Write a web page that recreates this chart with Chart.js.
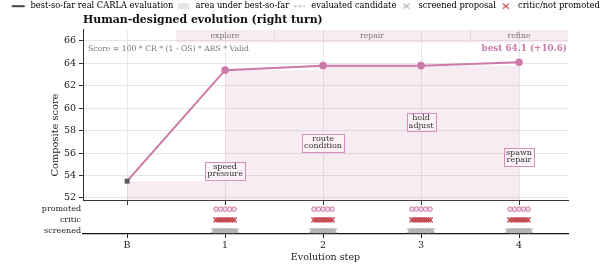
<!DOCTYPE html>
<html>
<head>
<meta charset="utf-8">
<script src="https://cdn.jsdelivr.net/npm/chart.js@4.4.1/dist/chart.umd.min.js"></script>
<style>
  body { margin: 0; background: #fff; }
  #wrap { position: relative; width: 610px; height: 268px; }
  #wrap canvas { position: absolute; left: 0; top: 0; }
</style>
</head>
<body>
<div id="wrap">
  <canvas id="main" width="610" height="268"></canvas>
  <canvas id="rows" width="610" height="268"></canvas>
</div>
<script>
// valeurs
const steps = ['B', '1', '2', '3', '4'];
const bestSoFar = [53.5, 63.4, 63.8, 63.8, 64.1];
const yTicks = [52, 54, 56, 58, 60, 62, 64, 66];

// étiquettes des propositions (hauteur en unités de score)
const notes = ['', 'speed\npressure', 'route\ncondition', 'hold\nadjust', 'spawn\nrepair'];
const noteLevel = [null, 54.45, 56.95, 58.8, 55.7];

const phaseNames = ['explore', 'repair', 'refine'];
const phaseSpans = [[0.5, 1.5], [1.5, 3.5], [3.5, 4.5]];

// bande du bas : nombre de candidats par étape
const rowNames = ['screened', 'critic', 'promoted'];
const screenedCount = [0, 14, 14, 14, 14];
const criticCount = [0, 10, 10, 10, 10];
const promotedCount = [0, 5, 5, 5, 5];

const legendTexts = ['best-so-far real CARLA evaluation', 'area under best-so-far',
  'evaluated candidate', 'screened proposal', 'critic/not promoted'];

const PINK = '#cc79a7';
const PINK_FILL = 'rgba(204, 121, 167, 0.14)';
const RED = '#c44e52';
const GRID = '#e6e6e6';

Chart.defaults.font.family = "'DejaVu Serif', serif";
Chart.defaults.color = '#222';

// petites icônes pour la légende
function icon(draw) {
    const c = document.createElement('canvas');
    c.width = 16;
    c.height = 8;
    draw(c.getContext('2d'));
    return c;
}
function cross(g, color) {
    g.strokeStyle = color;
    g.lineWidth = 1.2;
    g.beginPath();
    g.moveTo(5, 1.5); g.lineTo(11, 6.5);
    g.moveTo(11, 1.5); g.lineTo(5, 6.5);
    g.stroke();
}
const legendIcons = [
    icon(g => { g.strokeStyle = '#444'; g.lineWidth = 2; g.beginPath(); g.moveTo(1.5, 4); g.lineTo(14.5, 4); g.stroke(); }),
    icon(g => { g.fillStyle = '#e6e6e6'; g.fillRect(2.5, 1, 11, 6); }),
    icon(g => { g.strokeStyle = '#999'; g.lineWidth = 1; g.setLineDash([3, 2]); g.beginPath(); g.moveTo(2.5, 4); g.lineTo(14, 4); g.stroke(); }),
    icon(g => cross(g, '#b3b3b3')),
    icon(g => cross(g, RED)),
];

const stepTicks = s => { s.ticks = steps.map((_, i) => ({ value: i })); };

// bande des phases + textes
const decorations = {
    id: 'decorations',
    beforeDatasetsDraw(chart) {
        const { ctx, chartArea, scales: { x, y } } = chart;
        const top = chartArea.top;
        const bottom = y.getPixelForValue(65.85);
        ctx.save();
        phaseSpans.forEach((span, i) => {
            const x0 = x.getPixelForValue(span[0]);
            const x1 = x.getPixelForValue(span[1]);
            ctx.fillStyle = PINK_FILL;
            ctx.fillRect(x0, top, x1 - x0, bottom - top);
            if (i > 0) {
                ctx.strokeStyle = '#e3d6de';
                ctx.lineWidth = 1;
                ctx.beginPath();
                ctx.moveTo(Math.round(x0) + 0.5, top);
                ctx.lineTo(Math.round(x0) + 0.5, bottom);
                ctx.stroke();
            }
            ctx.fillStyle = '#777';
            ctx.font = "7.7px 'DejaVu Serif'";
            ctx.textAlign = 'center';
            ctx.textBaseline = 'middle';
            ctx.fillText(phaseNames[i], (x0 + x1) / 2, (top + bottom) / 2);
        });
        ctx.restore();
    },
    afterDatasetsDraw(chart) {
        const { ctx, chartArea, scales: { x, y } } = chart;
        ctx.save();
        ctx.textBaseline = 'middle';

        // titre de l'axe y, centré sur les deux panneaux
        ctx.save();
        ctx.translate(55, 135);
        ctx.rotate(-Math.PI / 2);
        ctx.fillStyle = '#222';
        ctx.font = "9.8px 'DejaVu Serif'";
        ctx.textAlign = 'center';
        ctx.fillText('Composite score', 0, 0);
        ctx.restore();

        ctx.fillStyle = '#777';
        ctx.font = "7.7px 'DejaVu Serif'";
        ctx.textAlign = 'left';
        ctx.fillText('Score = 100 * CR * (1 - OS) * ARS * Valid', chartArea.left + 5, chartArea.top + 19);

        const last = bestSoFar[bestSoFar.length - 1];
        const gain = last - bestSoFar[0];
        ctx.fillStyle = PINK;
        ctx.font = "bold 8.8px 'DejaVu Serif'";
        ctx.textAlign = 'right';
        ctx.fillText('best ' + last.toFixed(1) + ' (+' + gain.toFixed(1) + ')', chartArea.right - 1, chartArea.top + 18.5);

        ctx.font = "8px 'DejaVu Serif'";
        ctx.textAlign = 'center';
        notes.forEach((txt, i) => {
            if (!txt) return;
            const lines = txt.split('\n');
            const cx = x.getPixelForValue(i);
            const cy = y.getPixelForValue(noteLevel[i]);
            const w = Math.max(...lines.map(l => ctx.measureText(l).width)) + 4;
            const h = lines.length * 7.5 + 2.5;
            ctx.fillStyle = 'rgba(252, 242, 248, 0.95)';
            ctx.strokeStyle = '#d690bb';
            ctx.lineWidth = 1;
            ctx.fillRect(cx - w / 2, cy - h / 2, w, h);
            ctx.strokeRect(Math.round(cx - w / 2) + 0.5, Math.round(cy - h / 2) + 0.5, Math.round(w), Math.round(h));
            ctx.fillStyle = '#333';
            lines.forEach((l, k) => {
                ctx.fillText(l, cx, cy + (k - (lines.length - 1) / 2) * 7.5);
            });
        });
        ctx.restore();
    }
};

const mainChart = new Chart(document.querySelector('#main'), {
    type: 'line',
    data: {
        datasets: [
            {
                label: 'best',
                data: bestSoFar.map((v, i) => ({ x: i, y: v })),
                borderColor: PINK,
                borderWidth: 2,
                pointStyle: ctx => ctx.dataIndex === 0 ? 'rect' : 'circle',
                pointRadius: ctx => ctx.dataIndex === 0 ? 3.5 : 3.8,
                pointBackgroundColor: ctx => ctx.dataIndex === 0 ? '#5a5a5a' : PINK,
                pointBorderColor: ctx => ctx.dataIndex === 0 ? '#5a5a5a' : PINK,
                pointBorderWidth: 0,
                order: 0,
            },
            {
                label: 'area',
                data: bestSoFar.map((v, i) => ({ x: i, y: v })),
                stepped: 'before',
                fill: 'start',
                backgroundColor: PINK_FILL,
                borderWidth: 0,
                pointRadius: 0,
                order: 1,
            },
        ],
    },
    options: {
        responsive: false,
        animation: false,
        events: [],
        layout: { padding: 0 },
        plugins: {
            legend: {
                position: 'top',
                weight: 3000,
                maxHeight: 12,
                onClick: null,
                labels: {
                    usePointStyle: true,
                    pointStyleWidth: 16,
                    boxHeight: 8,
                    padding: 2,
                    color: '#222',
                    font: { size: 8.3 },
                    generateLabels: () => legendTexts.map((t, i) => ({
                        text: t,
                        pointStyle: legendIcons[i],
                        fillStyle: 'rgba(0,0,0,0)',
                        strokeStyle: 'rgba(0,0,0,0)',
                        lineWidth: 0,
                        hidden: false,
                    })),
                },
            },
            title: {
                display: true,
                text: 'Human-designed evolution (right turn)',
                align: 'start',
                fullSize: false,
                color: '#111',
                font: { size: 10.9, weight: 'bold' },
                padding: { top: 1.5, bottom: 3.4 },
            },
            tooltip: { enabled: false },
        },
        scales: {
            x: {
                type: 'linear',
                min: -0.45,
                max: 4.5,
                afterBuildTicks: stepTicks,
                ticks: { display: false },
                grid: { color: GRID, tickColor: '#333', tickLength: 4 },
                border: { color: '#333' },
                afterFit: s => { s.height = 67; },
            },
            y: {
                min: 51.73,
                max: 66.98,
                afterBuildTicks: s => { s.ticks = yTicks.map(v => ({ value: v })); },
                ticks: { font: { size: 9.5 }, padding: 3 },
                grid: { color: GRID, tickColor: '#333', tickLength: 4 },
                border: { color: '#333' },
                afterFit: s => { s.width = 83; },
            },
            // marge droite réservée
            yR: {
                position: 'right',
                ticks: { display: false },
                grid: { display: false, drawTicks: false },
                border: { display: false },
                afterFit: s => { s.width = 42; },
            },
        },
    },
    plugins: [decorations],
});

// répartit les candidats autour de chaque étape
function spread(counts, row, halfWidth) {
    const pts = [];
    counts.forEach((n, step) => {
        for (let i = 0; i < n; i++) {
            const off = n > 1 ? -halfWidth + 2 * halfWidth * i / (n - 1) : 0;
            pts.push({ x: step + off, y: row });
        }
    });
    return pts;
}

const rowsChart = new Chart(document.querySelector('#rows'), {
    type: 'scatter',
    data: {
        datasets: [
            {
                label: 'screened',
                data: spread(screenedCount, 0, 0.115),
                pointStyle: 'crossRot',
                pointRadius: 3.3,
                borderColor: '#b3b3b3',
                borderWidth: 1.4,
            },
            {
                label: 'critic',
                data: spread(criticCount, 1, 0.095),
                pointStyle: 'crossRot',
                pointRadius: 3.3,
                borderColor: RED,
                borderWidth: 1.4,
            },
            {
                label: 'promoted',
                data: spread(promotedCount, 2, 0.092),
                pointStyle: 'circle',
                pointRadius: 2.3,
                borderColor: PINK,
                backgroundColor: 'rgba(204, 121, 167, 0.25)',
                borderWidth: 1,
            },
        ],
    },
    options: {
        responsive: false,
        animation: false,
        events: [],
        layout: { padding: { left: 0, right: 42, top: 202, bottom: 0 } },
        plugins: { legend: { display: false }, tooltip: { enabled: false } },
        scales: {
            x: {
                type: 'linear',
                min: -0.45,
                max: 4.5,
                afterBuildTicks: stepTicks,
                ticks: { font: { size: 9.5 }, padding: 2, callback: v => steps[v] },
                grid: { drawOnChartArea: false, tickColor: '#222', tickLength: 4 },
                border: { color: '#111', width: 1.2 },
                title: { display: true, text: 'Evolution step', font: { size: 9.5 }, padding: { top: 0, bottom: 5 } },
                afterFit: s => { s.height = 34; },
            },
            y: {
                min: -0.3,
                max: 2.66,
                afterBuildTicks: s => { s.ticks = rowNames.map((_, i) => ({ value: i })); },
                ticks: { font: { size: 8 }, padding: 2, callback: v => rowNames[v] },
                grid: { display: false, drawTicks: false },
                border: { display: false },
                afterFit: s => { s.width = 83; },
            },
        },
    },
});
</script>
</body>
</html>
